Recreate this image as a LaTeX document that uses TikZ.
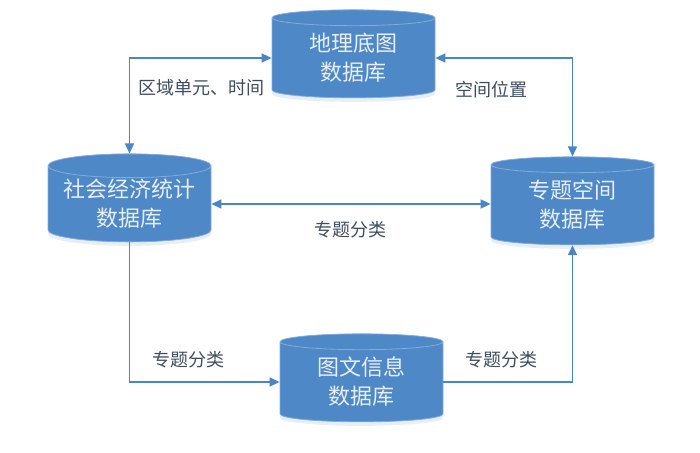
\documentclass[tikz,border=0pt]{standalone}
\usepackage{fontspec}
\setmainfont{Noto Sans CJK SC}
\usetikzlibrary{shapes.geometric,arrows.meta,shadows}
\definecolor{dbblue}{RGB}{79,136,198}
\definecolor{dbrim}{RGB}{130,172,218}
\definecolor{linkblue}{RGB}{74,134,197}
\definecolor{labelgray}{RGB}{62,76,96}
\tikzset{
  db/.style={cylinder, shape border rotate=90, aspect=0.18,
    minimum width=163pt, minimum height=88pt, inner sep=0pt,
    draw=dbrim, line width=0.8pt, fill=dbblue,
    text=white!86!dbblue, align=center,
    font=\fontsize{22}{29}\selectfont,
    drop shadow={shadow xshift=0pt, shadow yshift=-4pt, fill=dbblue!35, opacity=0.4}},
  link/.style={draw=linkblue, line width=1.6pt},
  lbl/.style={text=labelgray, font=\fontsize{18}{20}\selectfont}
}
\begin{document}
\begin{tikzpicture}[x=1pt, y=-1pt, >={Triangle[length=10pt,width=9pt]}]
  \useasboundingbox (0,0) rectangle (700,452);
  \node[db] (base) at (353.5, 58) {地理底图\\数据库};
  \node[db] (stats) at (129.5, 204) {社会经济统计\\数据库};
  \node[db] (theme) at (572.5, 205) {专题空间\\数据库};
  \node[db] (media) at (361.5, 382) {图文信息\\数据库};
  \draw[link, <->] (stats.north) |- (base.west);
  \draw[link, <->] (base.east) -| (theme.north);
  \draw[link, <->] (stats.east) -- (stats.east -| theme.west);
  \draw[link, ->] (stats.south) |- (media.west);
  \draw[link, ->] (media.east) -| (theme.south);
  \node[lbl] (unitlbl) at (201, 88) {区域单元、时间};
  \node[lbl] (poslbl) at (491, 90) {空间位置};
  \node[lbl] (midlbl) at (350, 230) {专题分类};
  \node[lbl] (leftlbl) at (188, 360) {专题分类};
  \node[lbl] (rightlbl) at (501, 360) {专题分类};
\end{tikzpicture}
\end{document}
